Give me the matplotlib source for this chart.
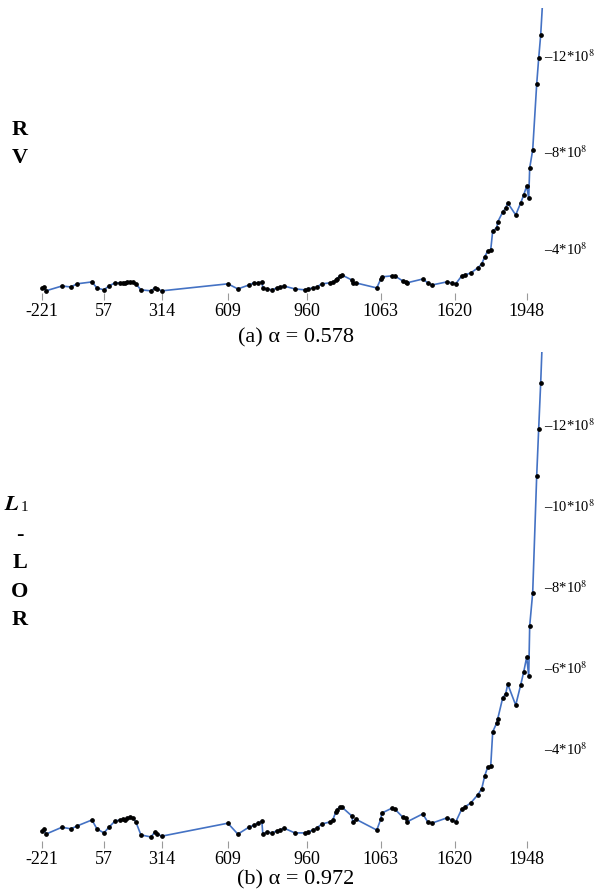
import matplotlib

matplotlib.use("Agg")
import matplotlib.pyplot as plt

plt.rcParams["font.family"] = ["Liberation Serif", "DejaVu Serif"]
plt.rcParams["mathtext.fontset"] = "stix"

# horizontal position of each observation (shared by both panels)
positions = [
    0, 2, 4, 20, 29, 35, 50, 55, 62, 67, 73, 78, 81, 83, 85, 88, 91, 94, 99,
    109, 113, 115, 120, 186, 196, 207, 212, 216, 220, 221, 225, 230, 235, 238,
    242, 253, 263, 266, 271, 275, 280, 288, 291, 294, 295, 298, 300, 310, 311,
    314, 335, 339, 340, 350, 353, 361, 364, 365, 381, 386, 390, 405, 410, 414,
    420, 423, 429, 436, 440, 443, 446, 449, 451, 455, 456, 461, 464, 466, 474,
    479, 482, 485, 487, 488, 491, 495, 497, 499, 502,
]

# values in units of 10^8
rv_values = [
    -2.34, -2.38, -2.22, -2.42, -2.38, -2.51, -2.59, -2.34, -2.26, -2.42,
    -2.55, -2.55, -2.55, -2.55, -2.59, -2.59, -2.59, -2.51, -2.26, -2.22,
    -2.34, -2.30, -2.22, -2.51, -2.30, -2.46, -2.55, -2.55, -2.59, -2.34,
    -2.30, -2.26, -2.34, -2.38, -2.42, -2.30, -2.26, -2.30, -2.34, -2.38,
    -2.51, -2.55, -2.59, -2.67, -2.71, -2.84, -2.88, -2.67, -2.55, -2.55,
    -2.34, -2.71, -2.80, -2.84, -2.84, -2.63, -2.59, -2.55, -2.71, -2.55,
    -2.46, -2.59, -2.55, -2.51, -2.84, -2.88, -2.96, -3.17, -3.34, -3.63,
    -3.88, -3.92, -4.71, -4.83, -5.08, -5.49, -5.66, -5.87, -5.37, -5.87,
    -6.20, -6.57, -6.07, -7.32, -8.07, -10.80, -11.88, -12.84, -15.00,
]

lor_values = [
    -1.95, -2.00, -1.87, -2.04, -2.00, -2.07, -2.22, -2.00, -1.90, -2.04,
    -2.19, -2.22, -2.24, -2.22, -2.27, -2.29, -2.27, -2.17, -1.85, -1.80,
    -1.92, -1.87, -1.82, -2.14, -1.87, -2.04, -2.09, -2.14, -2.19, -1.87,
    -1.92, -1.90, -1.95, -1.97, -2.02, -1.90, -1.90, -1.92, -1.97, -2.02,
    -2.12, -2.17, -2.22, -2.42, -2.47, -2.54, -2.54, -2.32, -2.17, -2.24,
    -1.97, -2.24, -2.39, -2.51, -2.49, -2.29, -2.27, -2.17, -2.37, -2.17,
    -2.14, -2.27, -2.22, -2.17, -2.49, -2.54, -2.64, -2.84, -2.99, -3.31,
    -3.53, -3.55, -4.40, -4.62, -4.72, -5.24, -5.34, -5.58, -5.06, -5.56,
    -5.88, -6.25, -5.78, -7.02, -7.84, -10.73, -11.90, -13.03, -15.00,
]

year_ticks = [0, 62, 120, 186, 265, 339, 413, 485]
year_labels = ["-221", "57", "314", "609", "960", "1063", "1620", "1948"]

rv_yticks = [-4, -8, -12]
lor_yticks = [-4, -6, -8, -10, -12]

LINE_COLOR = "#4472c4"


def draw_panel(ax, values, yticks, ylim):
    ax.plot(positions, values, color=LINE_COLOR, linewidth=1.2,
            marker="o", markersize=2.4, markerfacecolor="black",
            markeredgecolor="black", zorder=3)

    ax.set_xlim(-12, 504)
    ax.set_ylim(*ylim)

    for side in ("top", "right", "bottom", "left"):
        ax.spines[side].set_visible(False)

    ax.set_xticks(year_ticks)
    ax.set_xticklabels(year_labels, fontsize=13)
    ax.tick_params(axis="x", length=5, width=0.8, color="#9a9a9a", pad=2)

    ax.yaxis.tick_right()
    ax.set_yticks(yticks)
    ax.set_yticklabels([f"\u2013{abs(t)}*10$^{{8}}$" for t in yticks],
                       fontsize=10.5)
    ax.tick_params(axis="y", length=0, pad=-1)


fig = plt.figure(figsize=(5.99, 8.96), dpi=100)

ax_rv = fig.add_axes([0.050, 0.673, 0.861, 0.318])
ax_lor = fig.add_axes([0.050, 0.0614, 0.861, 0.546])

draw_panel(ax_rv, rv_values, rv_yticks, (-2.13, -13.96))
draw_panel(ax_lor, lor_values, lor_yticks, (-1.70, -13.80))

fig.text(296 / 599, 1 - 338 / 896, "(a) α = 0.578", ha="center",
         va="center", fontsize=16)
fig.text(296 / 599, 1 - 880 / 896, "(b) α = 0.972", ha="center",
         va="center", fontsize=16)

# stacked method names on the left margin
for letter, y in [("R", 130), ("V", 158)]:
    fig.text(20 / 599, 1 - y / 896, letter, ha="center", va="center",
             fontsize=16, fontweight="bold")

fig.text(20 / 599, 1 - 505 / 896, r"$\boldsymbol{L}$", ha="right",
         va="center", fontsize=16)
fig.text(21 / 599, 1 - 507 / 896, "1", ha="left", va="center", fontsize=11)
for letter, y in [("-", 535), ("L", 563), ("O", 592), ("R", 620)]:
    fig.text(20 / 599, 1 - y / 896, letter, ha="center", va="center",
             fontsize=16, fontweight="bold")

fig.savefig("out.png", dpi=100)
